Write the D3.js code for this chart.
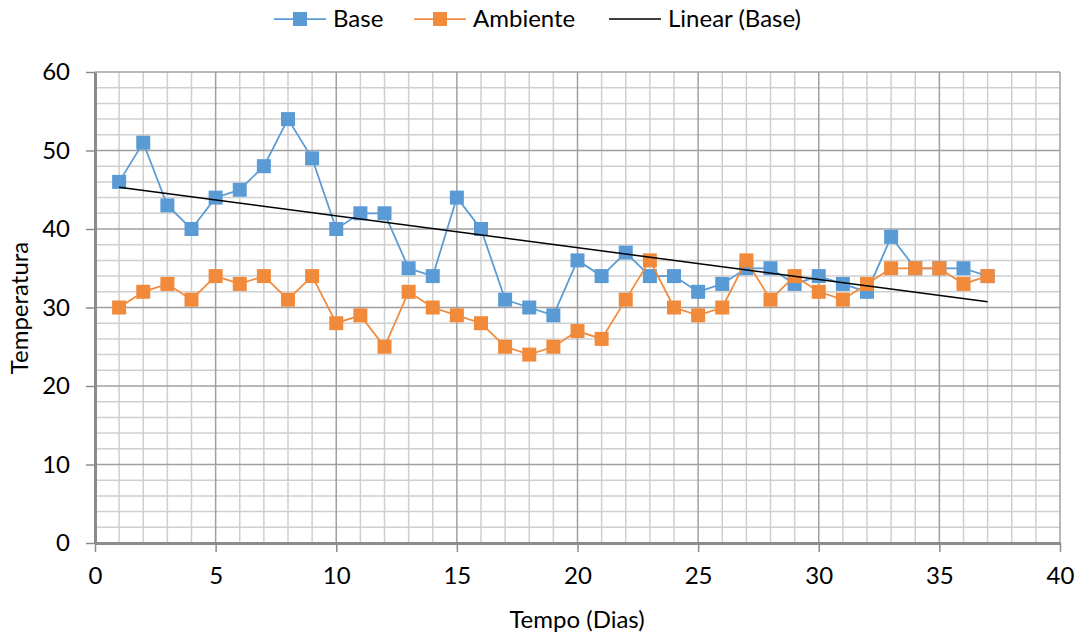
<!DOCTYPE html>
<html>
<head>
<meta charset="utf-8">
<script src="https://cdn.jsdelivr.net/npm/d3@7"></script>
<style>
  html, body { margin: 0; padding: 0; background: #fff; }
  svg { display: block; }
  text { font-family: Lato, "Open Sans", sans-serif; fill: #000; }
</style>
</head>
<body>
<svg id="chart" width="1080" height="636"></svg>
<script>
// Daily readings (day 1..37)
const days = d3.range(1, 38);
const baseValues = [46, 51, 43, 40, 44, 45, 48, 54, 49, 40, 42, 42, 35, 34, 44, 40, 31, 30, 29, 36,
                    34, 37, 34, 34, 32, 33, 35, 35, 33, 34, 33, 32, 39, 35, 35, 35, 34];
const ambientValues = [30, 32, 33, 31, 34, 33, 34, 31, 34, 28, 29, 25, 32, 30, 29, 28, 25, 24, 25, 27,
                       26, 31, 36, 30, 29, 30, 36, 31, 34, 32, 31, 33, 35, 35, 35, 33, 34];
const xTicks = [0, 5, 10, 15, 20, 25, 30, 35, 40];
const yTicks = [0, 10, 20, 30, 40, 50, 60];
const seriesNames = ["Base", "Ambiente", "Linear (Base)"];
const xTitle = "Tempo (Dias)";
const yTitle = "Temperatura";

const blue = "#5B9BD5", orange = "#F28A3C";
const fontSize = 24;
const svg = d3.select("#chart");
const plotLeft = 95, plotRight = 1060, plotTop = 72, plotBottom = 543;

const x = d3.scaleLinear().domain([0, 40]).range([plotLeft, plotRight]);
const y = d3.scaleLinear().domain([0, 60]).range([plotBottom, plotTop]);

// Grid: minor every 1 day / 2 degrees, major every 5 days / 10 degrees
const grid = svg.append("g");
grid.selectAll(".vminor").data(d3.range(1, 41).filter(d => d % 5 !== 0)).join("line")
  .attr("x1", d => x(d)).attr("x2", d => x(d)).attr("y1", plotTop).attr("y2", plotBottom)
  .attr("stroke", "#cfcfcf").attr("stroke-width", 1.5);
grid.selectAll(".hminor").data(d3.range(2, 61, 2).filter(d => d % 10 !== 0)).join("line")
  .attr("x1", plotLeft).attr("x2", plotRight).attr("y1", d => y(d)).attr("y2", d => y(d))
  .attr("stroke", "#cfcfcf").attr("stroke-width", 1.5);
grid.selectAll(".vmajor").data(xTicks.filter(d => d > 0)).join("line")
  .attr("x1", d => x(d)).attr("x2", d => x(d)).attr("y1", plotTop).attr("y2", plotBottom)
  .attr("stroke", "#a0a0a0").attr("stroke-width", 1.5);
grid.selectAll(".hmajor").data(yTicks.filter(d => d > 0)).join("line")
  .attr("x1", plotLeft).attr("x2", plotRight).attr("y1", d => y(d)).attr("y2", d => y(d))
  .attr("stroke", "#a0a0a0").attr("stroke-width", 1.5);

// Axes
const xAxis = svg.append("g").attr("transform", `translate(0,${plotBottom})`)
  .call(d3.axisBottom(x).tickValues(xTicks).tickSize(9).tickPadding(15).tickSizeOuter(0));
const yAxis = svg.append("g").attr("transform", `translate(${plotLeft},0)`)
  .call(d3.axisLeft(y).tickValues(yTicks).tickSize(9).tickPadding(16).tickSizeOuter(0));
[xAxis, yAxis].forEach(a => {
  a.select(".domain").attr("stroke", "#8c8c8c").attr("stroke-width", 3);
  a.selectAll(".tick line").attr("stroke", "#8c8c8c").attr("stroke-width", 1.5);
  a.selectAll(".tick text").attr("font-size", fontSize).attr("font-family", "Lato, sans-serif").attr("fill", "#000");
});

// Linear trend line fitted to the Base series
const n = days.length;
const mx = d3.mean(days), my = d3.mean(baseValues);
const slope = d3.sum(days, (d, i) => (d - mx) * (baseValues[i] - my)) / d3.sum(days, d => (d - mx) ** 2);
const intercept = my - slope * mx;

function drawSeries(values, color) {
  const pts = days.map((d, i) => [d, values[i]]);
  svg.append("path").datum(pts)
    .attr("fill", "none").attr("stroke", color).attr("stroke-width", 1.75)
    .attr("d", d3.line().x(p => x(p[0])).y(p => y(p[1])));
  svg.append("g").selectAll("rect").data(pts).join("rect")
    .attr("x", p => x(p[0]) - 7).attr("y", p => y(p[1]) - 7)
    .attr("width", 14).attr("height", 14)
    .attr("fill", color);
}
drawSeries(baseValues, blue);
drawSeries(ambientValues, orange);

svg.append("line")
  .attr("x1", x(days[0])).attr("y1", y(intercept + slope * days[0]))
  .attr("x2", x(days[n - 1])).attr("y2", y(intercept + slope * days[n - 1]))
  .attr("stroke", "#000").attr("stroke-width", 1.5);

// Axis titles
svg.append("text").attr("x", 577).attr("y", 620).attr("dy", "0.35em")
  .attr("text-anchor", "middle").attr("font-size", fontSize).text(xTitle);
svg.append("text").attr("transform", `translate(20,308) rotate(-90)`).attr("dy", "0.35em")
  .attr("text-anchor", "middle").attr("font-size", fontSize).text(yTitle);

// Legend
const legend = [
  { name: seriesNames[0], color: blue, marker: true, x0: 274 },
  { name: seriesNames[1], color: orange, marker: true, x0: 414 },
  { name: seriesNames[2], color: "#000", marker: false, x0: 609 }
];
const lg = svg.append("g");
legend.forEach(l => {
  lg.append("line").attr("x1", l.x0).attr("x2", l.x0 + 52).attr("y1", 19).attr("y2", 19)
    .attr("stroke", l.color).attr("stroke-width", l.marker ? 1.75 : 1.5);
  if (l.marker) lg.append("rect").attr("x", l.x0 + 19).attr("y", 12).attr("width", 14).attr("height", 14).attr("fill", l.color);
  lg.append("text").attr("x", l.x0 + 59).attr("y", 19).attr("dy", "0.35em")
    .attr("font-size", fontSize).text(l.name);
});
</script>
</body>
</html>
